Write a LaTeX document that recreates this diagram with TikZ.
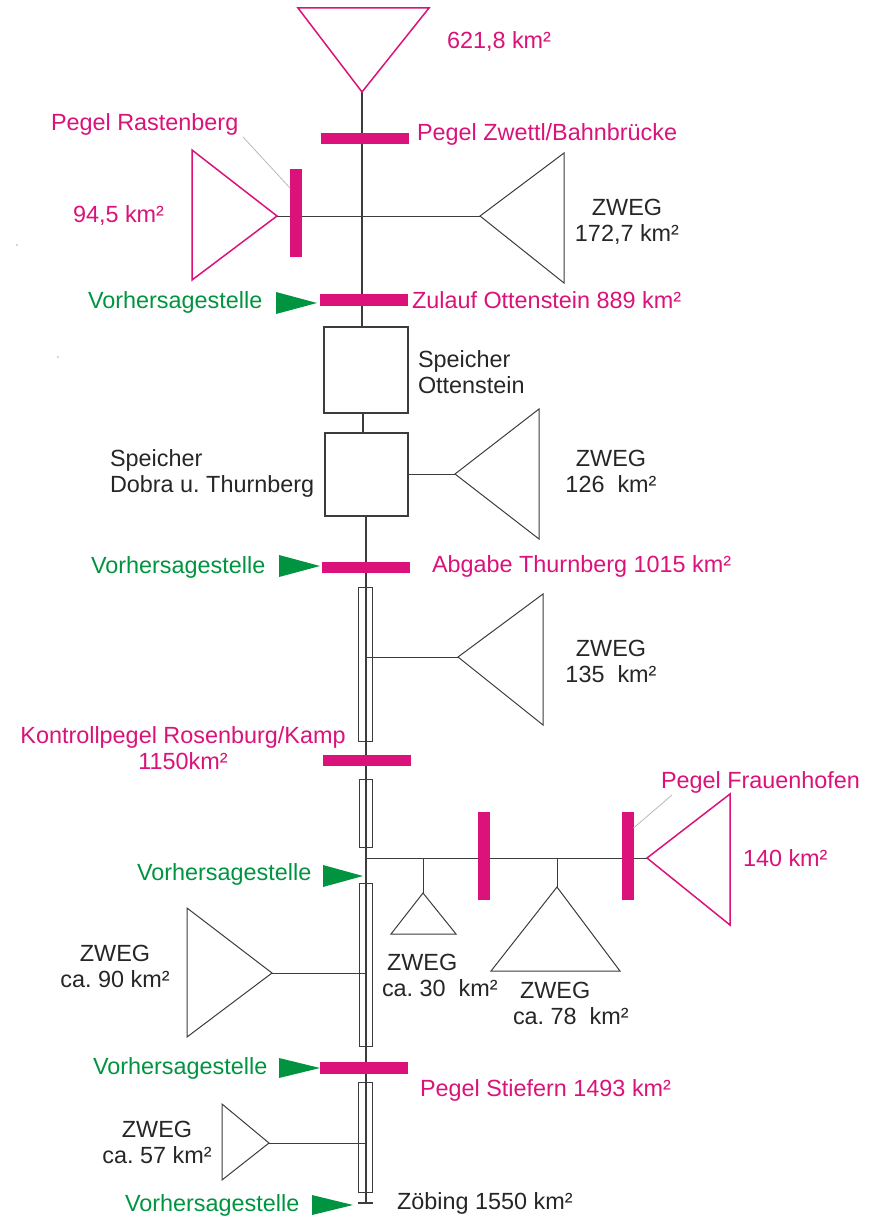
\documentclass[tikz,border=0pt]{standalone}
\usepackage{fontspec}
\setmainfont{Liberation Sans}
\definecolor{pk}{RGB}{218,18,122}
\definecolor{gr}{RGB}{0,148,64}
\definecolor{ln}{RGB}{60,60,60}
\definecolor{ld}{RGB}{185,185,185}
\begin{document}
\begin{tikzpicture}[x=0.5pt,y=-0.5pt,
  every node/.style={inner sep=0pt,outer sep=0pt,font=\fontsize{11.7}{13}\selectfont},
  mainline/.style={draw=ln,line width=0.55pt},
  thin/.style={draw=ln,line width=0.5pt},
  ptri/.style={draw=pk,line width=0.75pt,line join=miter},
  btri/.style={draw=ln,line width=0.5pt,line join=miter},
  hbar/.style={fill=pk,minimum width=44pt,minimum height=5.6pt},
  vbar/.style={fill=pk,minimum width=6pt,minimum height=44pt},
  store/.style={draw=ln,line width=0.6pt},
  chan/.style={draw=ln,line width=0.5pt,minimum width=6.75pt},
  pktext/.style={text=pk},
  grtext/.style={text=gr},
  bktext/.style={text=black!85},
  varrow/.style={fill=gr},
  leader/.style={draw=ld,line width=0.4pt}]
\useasboundingbox (0,0) rectangle (882,1220);

% stray dots
\fill[black!70] (17,245) circle (0.6);
\fill[black!70] (58,357) circle (0.6);

% ---------- coordinates ----------
\coordinate (t1) at (362,92);
\coordinate (ras) at (277,216);
\coordinate (z1) at (480,216);
\coordinate (z2) at (455,474);
\coordinate (z3) at (458,657);
\coordinate (j3) at (366,657);
\coordinate (j4) at (366,858);
\coordinate (frau) at (647,858);
\coordinate (s30) at (423,858);
\coordinate (a30) at (423,893);
\coordinate (s78) at (557,858);
\coordinate (a78) at (557,887);
\coordinate (z90) at (272,973);
\coordinate (j90) at (366,973);
\coordinate (z57) at (269,1143);
\coordinate (j57) at (366,1143);
\coordinate (bend) at (366,1203);
\coordinate (tickl) at (358,1203);
\coordinate (tickr) at (373,1203);

% ---------- storage boxes ----------
\node[store,minimum width=42pt,minimum height=43pt] (ott) at (366,370) {};
\node[store,minimum width=41.5pt,minimum height=41.5pt] (dob) at (366.5,474.5) {};

% ---------- main line ----------
\draw[mainline] (t1) -- (t1 |- ott.north);
\draw[mainline] (363,413) -- (363,433);
\draw[mainline] (dob.south -| bend) -- (bend);
\draw[mainline] (tickl) -- (tickr);

% ---------- triangles ----------
\draw[ptri] (298,8) -- (429,8) -- (t1) -- cycle;
\draw[ptri] (192,150) -- (192,280) -- (ras) -- cycle;
\draw[btri] (564,153) -- (564,283) -- (z1) -- cycle;
\draw[btri] (539,409) -- (539,539) -- (z2) -- cycle;
\draw[btri] (543,594) -- (543,725) -- (z3) -- cycle;
\draw[ptri] (730,794) -- (730,925) -- (frau) -- cycle;
\draw[btri] (391,934) -- (456,934) -- (a30) -- cycle;
\draw[btri] (491,971) -- (620,971) -- (a78) -- cycle;
\draw[btri] (187,908) -- (187,1037) -- (z90) -- cycle;
\draw[btri] (222,1104) -- (222,1180) -- (z57) -- cycle;

% ---------- branch lines ----------
\draw[thin] (ras) -- (z1);
\draw[thin] (dob.east |- z2) -- (z2);
\draw[thin] (j3) -- (z3);
\draw[thin] (j4) -- (frau);
\draw[thin] (s30) -- (a30);
\draw[thin] (s78) -- (a78);
\draw[thin] (j90) -- (z90);
\draw[thin] (j57) -- (z57);

% ---------- channel sections ----------
\node[chan,minimum height=77pt] (c1) at (365.5,664) {};
\node[chan,minimum height=34pt] (c2) at (366,813) {};
\node[chan,minimum height=81.5pt] (c3) at (366,964.5) {};
\node[chan,minimum height=55pt] (c4) at (365.5,1137) {};

% ---------- gauges ----------
\node[hbar] (zwettl) at (365,138.5) {};
\node[hbar] (zulauf) at (364,300) {};
\node[hbar] (abgabe) at (366,567.5) {};
\node[hbar] (kontroll) at (367,760.5) {};
\node[hbar] (stiefern) at (364,1068) {};
\node[vbar] (rastbar) at (296,213) {};
\node[vbar] (fbar1) at (483.5,856) {};
\node[vbar] (fbar2) at (627.5,856) {};

% ---------- forecast arrows ----------
\coordinate (v1) at (317,303);
\coordinate (v2) at (320,566);
\coordinate (v3) at (363,876);
\coordinate (v4) at (320,1068);
\coordinate (v5) at (353,1205);
\fill[varrow] (276,292) -- (v1) -- (276,314) -- cycle;
\fill[varrow] (279,555) -- (v2) -- (279,577) -- cycle;
\fill[varrow] (323,865) -- (v3) -- (323,887) -- cycle;
\fill[varrow] (279,1058) -- (v4) -- (279,1078) -- cycle;
\fill[varrow] (312,1195) -- (v5) -- (312,1215) -- cycle;

% ---------- leaders ----------
\coordinate (lr) at (243,137);
\coordinate (lf) at (672,795);
\draw[leader] (lr) -- (rastbar.north west |- 0,188);
\draw[leader] (lf) -- (fbar2.east |- 0,828);

% ---------- labels ----------
\node[pktext,anchor=west] (l621) at (447,42) {621,8 km²};
\node[pktext,anchor=west] (lzw) at (417,134) {Pegel Zwettl/Bahnbrücke};
\node[pktext,anchor=west] (lras) at (51,124) {Pegel Rastenberg};
\node[pktext,anchor=west] (l945) at (73,216) {94,5 km²};
\node[bktext,align=center] (lz1) at (627,222) {ZWEG\\172,7 km²};
\node[grtext,anchor=west] (vs1) at (88,302) {Vorhersagestelle};
\node[pktext,anchor=west] (lzul) at (412,300) {Zulauf Ottenstein 889 km²};
\node[bktext,align=left,anchor=west] (lott) at (418,372) {Speicher\\Ottenstein};
\node[bktext,align=left,anchor=west] (ldob) at (110,473) {Speicher\\Dobra u.\ Thurnberg};
\node[bktext,align=center] (lz2) at (611,471) {ZWEG\\126\ \ km²};
\node[grtext,anchor=west] (vs2) at (91,567) {Vorhersagestelle};
\node[pktext,anchor=west] (labg) at (432,566) {Abgabe Thurnberg 1015 km²};
\node[bktext,align=center] (lz3) at (611,661) {ZWEG\\135\ \ km²};
\node[pktext,align=center] (lkon) at (183,748) {Kontrollpegel Rosenburg/Kamp\\1150km²};
\node[pktext,anchor=west] (lfrau) at (661,782) {Pegel Frauenhofen};
\node[pktext,anchor=west] (l140) at (743,858) {140 km²};
\node[grtext,anchor=west] (vs3) at (137,874) {Vorhersagestelle};
\node[bktext,align=left,anchor=west] (lz30) at (382,975.5) {\hspace*{2.5pt}ZWEG\\ca.\ 30\ \ km²};
\node[bktext,align=left,anchor=west] (lz78) at (513,1003.5) {\hspace*{3.5pt}ZWEG\\ca.\ 78\ \ km²};
\node[bktext,align=center] (lz90) at (115,966) {ZWEG\\ca.\ 90 km²};
\node[grtext,anchor=west] (vs4) at (93,1068) {Vorhersagestelle};
\node[pktext,anchor=west] (lstie) at (420,1090) {Pegel Stiefern 1493 km²};
\node[bktext,align=center] (lz57) at (157,1142) {ZWEG\\ca.\ 57 km²};
\node[grtext,anchor=west] (vs5) at (125,1205) {Vorhersagestelle};
\node[bktext,anchor=west] (lzoe) at (397,1203) {Zöbing 1550 km²};
\end{tikzpicture}
\end{document}
